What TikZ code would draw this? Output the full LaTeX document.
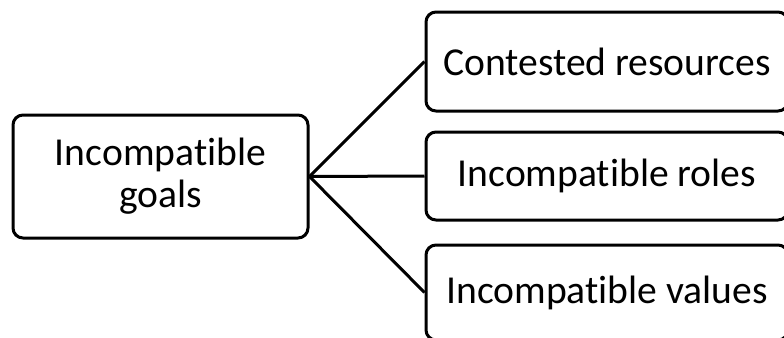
\documentclass[tikz,border=0pt]{standalone}
\usepackage{fontspec}
\setmainfont[Ligatures={NoCommon}]{Carlito}
\usetikzlibrary{positioning}

\begin{document}
\begin{tikzpicture}[x=0.5pt,y=-0.5pt,
    box/.style={draw,line width=1.5pt,rounded corners=5pt,align=center,inner sep=0pt,
        font=\fontsize{19.8}{21}\selectfont},
    link/.style={line width=1.5pt}]
    \useasboundingbox (0,0) rectangle (784,338);

    % Root
    \node[box,minimum width=147.5pt,minimum height=61.5pt] (goals) at (160.5,176.5) {Incompatible\\goals};

    % Branches
    \foreach \name/\ypos/\hgt/\txt in {res/61.5/49.5/Contested resources,
        roles/176/44/Incompatible roles, vals/292.5/47.5/Incompatible values} {
        \node[box,minimum width=181pt,minimum height=\hgt pt] (\name) at (607,\ypos) {\txt};
        \draw[link] (goals.east) -- (\name.west);
    }
\end{tikzpicture}
\end{document}
